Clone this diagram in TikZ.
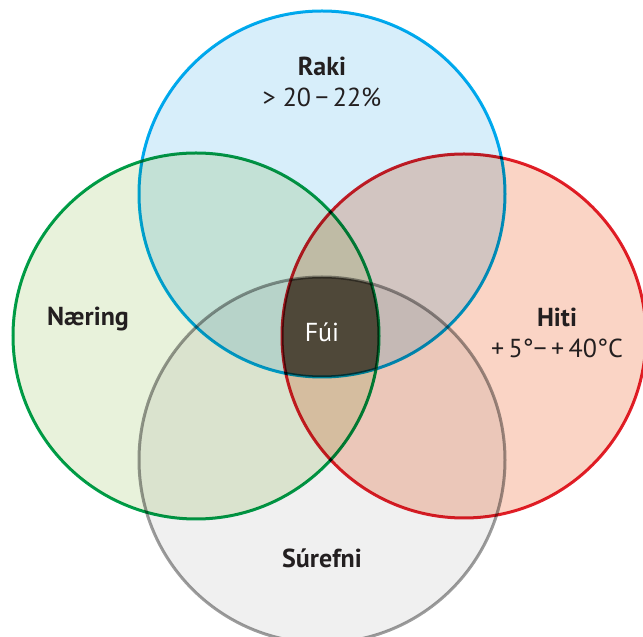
\documentclass[tikz,border=0pt]{standalone}
\usepackage{fontspec}
\setmainfont{PT Sans}
\usetikzlibrary{positioning}
\definecolor{RakiLine}{HTML}{00AEEF}
\definecolor{RakiFill}{HTML}{D7EEFA}
\definecolor{NaerLine}{HTML}{00A04B}
\definecolor{NaerFill}{HTML}{E8F2DB}
\definecolor{HitiLine}{HTML}{E2202A}
\definecolor{HitiFill}{HTML}{FAD4C5}
\definecolor{SurLine}{HTML}{9D9D9D}
\definecolor{SurFill}{HTML}{F0F0F0}
\definecolor{FuiFill}{HTML}{4F4839}
\definecolor{TextDark}{HTML}{231F20}

\begin{document}
\begin{tikzpicture}[x=0.5pt,y=0.5pt,
    ring/.style={line width=1.5pt},
    label/.style={font=\fontsize{13}{15.5}\selectfont, text=TextDark, align=center, inner sep=0pt}
  ]
    \useasboundingbox (0,0) rectangle (643,637);

    \coordinate (raki) at (322,443);
    \coordinate (naer) at (196,301);
    \coordinate (hiti) at (464,301);
    \coordinate (sur) at (322,177);

    % fills, multiplied so the overlaps darken
    \begin{scope}[blend mode=multiply]
      \fill[RakiFill] (raki) circle[radius=91.5pt];
      \fill[NaerFill] (naer) circle[radius=91.5pt];
      \fill[HitiFill] (hiti) circle[radius=91pt];
      \fill[SurFill] (sur) circle[radius=91.5pt];
    \end{scope}

    % common part of all four
    \begin{scope}
      \clip (raki) circle[radius=91.5pt];
      \clip (naer) circle[radius=91.5pt];
      \clip (hiti) circle[radius=91pt];
      \fill[FuiFill] (sur) circle[radius=91.5pt];
    \end{scope}

    \begin{scope}[blend mode=multiply]
      \draw[ring, RakiLine] (raki) circle[radius=91.5pt];
      \draw[ring, NaerLine] (naer) circle[radius=91.5pt];
      \draw[ring, HitiLine] (hiti) circle[radius=91pt];
      \draw[ring, SurLine] (sur) circle[radius=91.5pt];
    \end{scope}

    \node[label] (rakiT) at (322,555) {\textbf{Raki}\\> 20\,−\,22\%};
    \node[label] (naerT) at (88,318) {\textbf{Næring}};
    \node[label] (hitiT) at (557,304) {\textbf{Hiti}\\+\,5°−\,+\,40°C};
    \node[label] (surT) at (322,79) {\textbf{Súrefni}};
    \node[label, text=white] (fui) at (322,305) {Fúi};
\end{tikzpicture}
\end{document}
